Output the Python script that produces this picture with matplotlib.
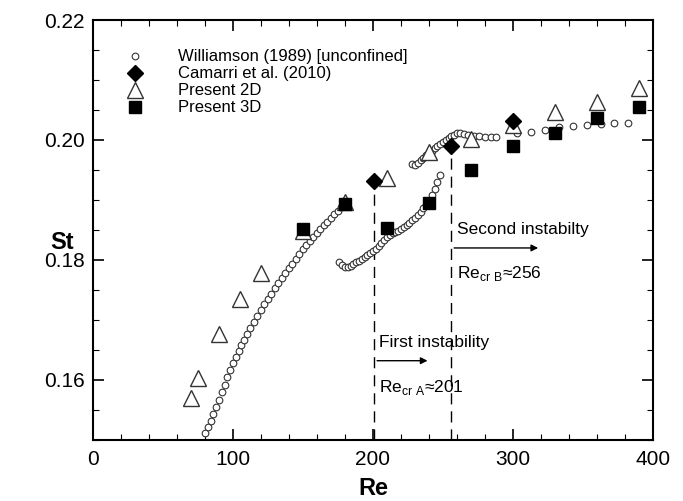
import matplotlib
matplotlib.use('Agg')
import matplotlib.pyplot as plt
from matplotlib.ticker import MultipleLocator

plt.rcParams['font.family'] = ['Liberation Sans', 'DejaVu Sans']
plt.rcParams['mathtext.fontset'] = 'custom'
plt.rcParams['mathtext.rm'] = 'Liberation Sans'

# Williamson (1989) - three branches
will_re_lam = [80, 82, 84, 86, 88, 90, 92, 94, 96, 98, 100, 102, 104, 106, 108, 110,
               112.5, 115, 117.5, 120, 122.5, 125, 127.5, 130, 132.5, 135, 137.5, 140,
               142.5, 145, 147.5, 150, 152.5, 155, 157.5, 160, 162.5, 165, 167.5, 170,
               172.5, 175, 177.5, 180]
will_st_lam = [0.1511, 0.1521, 0.1531, 0.1543, 0.1555, 0.1567, 0.1580, 0.1592, 0.1605, 0.1617,
               0.1628, 0.1638, 0.1648, 0.1658, 0.1667, 0.1676, 0.1686, 0.1696, 0.1706, 0.1716,
               0.1726, 0.1735, 0.1744, 0.1753, 0.1762, 0.1770, 0.1778, 0.1786, 0.1794, 0.1802,
               0.1810, 0.1818, 0.1825, 0.1832, 0.1838, 0.1845, 0.1851, 0.1858, 0.1864, 0.1870,
               0.1876, 0.1882, 0.1888, 0.1893]

will_re_a = [176, 178, 180, 182, 184, 186, 188, 190, 192, 194, 196, 198, 200, 202, 204, 206,
             208, 210, 212, 214, 216, 218, 220, 222, 224, 226, 228, 230, 232, 234, 236, 238,
             240, 242, 244, 246, 248]
will_st_a = [0.1796, 0.1791, 0.1789, 0.1789, 0.1790, 0.1793, 0.1796, 0.1799, 0.1802, 0.1805,
             0.1808, 0.1812, 0.1815, 0.1819, 0.1823, 0.1828, 0.1833, 0.1838, 0.1842, 0.1845,
             0.1847, 0.1849, 0.1852, 0.1855, 0.1858, 0.1862, 0.1866, 0.1870, 0.1875, 0.1880,
             0.1886, 0.1892, 0.1899, 0.1908, 0.1918, 0.1930, 0.1942]

will_re_b = [228, 230, 232, 234, 236, 238, 240, 242, 244, 246, 248, 250, 252, 254, 256, 258,
             260, 262, 265, 268, 272, 276, 280, 284, 288, 303, 313, 323, 333, 343, 353, 363,
             372, 382]
will_st_b = [0.1960, 0.1958, 0.1962, 0.1966, 0.1970, 0.1975, 0.1978, 0.1982, 0.1986, 0.1990,
             0.1993, 0.1997, 0.2000, 0.2003, 0.2006, 0.2009, 0.2011, 0.2012, 0.2010, 0.2008,
             0.2007, 0.2006, 0.2005, 0.2005, 0.2005, 0.2011, 0.2014, 0.2017, 0.2021, 0.2023,
             0.2025, 0.2027, 0.2028, 0.2029]

camarri_re = [201, 256, 300]
camarri_st = [0.1932, 0.1990, 0.2031]

p2d_re = [70, 75, 90, 105, 120, 150, 180, 210, 240, 270, 300, 330, 360, 390]
p2d_st = [0.1570, 0.1604, 0.1676, 0.1735, 0.1779, 0.1849, 0.1897, 0.1936, 0.1980, 0.2001,
          0.2025, 0.2047, 0.2064, 0.2087]

p3d_re = [150, 180, 210, 240, 270, 300, 330, 360, 390]
p3d_st = [0.1851, 0.1894, 0.1853, 0.1895, 0.1950, 0.1990, 0.2011, 0.2036, 0.2055]

re_cr_a = 201
re_cr_b = 256

fig = plt.figure(figsize=(6.83, 5.01), dpi=100)
ax = fig.add_axes([0.136, 0.122, 0.82, 0.838])

will_re = will_re_lam + will_re_a + will_re_b
will_st = will_st_lam + will_st_a + will_st_b
ax.plot(will_re, will_st, 'o', mfc='white', mec='#333333', mew=0.8, ms=4.8,
        label='Williamson (1989) [unconfined]', zorder=3)
ax.plot(camarri_re, camarri_st, 'D', color='black', ms=8.5, label='Camarri et al. (2010)', zorder=5)
ax.plot(p2d_re, p2d_st, '^', mfc='white', mec='#333333', mew=1.0, ms=11, label='Present 2D', zorder=4)
ax.plot(p3d_re, p3d_st, 's', color='black', ms=8.5, label='Present 3D', zorder=6)

# critical Reynolds numbers
ax.plot([re_cr_a, re_cr_a], [0.15, camarri_st[0]], color='black', lw=1, ls=(0, (8, 5)), zorder=2)
ax.plot([re_cr_b, re_cr_b], [0.15, camarri_st[1]], color='black', lw=1, ls=(0, (8, 5)), zorder=2)

ax.annotate('', xy=(241, 0.1632), xytext=(re_cr_a, 0.1632),
            arrowprops=dict(arrowstyle='-|>', color='black', lw=1, mutation_scale=10))
ax.annotate('', xy=(320, 0.1820), xytext=(re_cr_b, 0.1820),
            arrowprops=dict(arrowstyle='-|>', color='black', lw=1, mutation_scale=10))
ax.text(204, 0.1662, 'First instability', fontsize=12.5, va='center')
ax.text(204, 0.1588, r'Re$_{\mathrm{cr\ A}}$≈201', fontsize=12.5, va='center')
ax.text(260, 0.1850, 'Second instabilty', fontsize=12.5, va='center')
ax.text(260, 0.1777, r'Re$_{\mathrm{cr\ B}}$≈256', fontsize=12.5, va='center')

ax.set_xlim(0, 400)
ax.set_ylim(0.15, 0.22)
ax.xaxis.set_major_locator(MultipleLocator(100))
ax.xaxis.set_minor_locator(MultipleLocator(20))
ax.yaxis.set_major_locator(MultipleLocator(0.02))
ax.yaxis.set_minor_locator(MultipleLocator(0.005))
ax.yaxis.set_major_formatter(plt.FormatStrFormatter('%.2f'))
ax.tick_params(which='both', direction='in', top=True, right=True, width=1.2, labelsize=15)
ax.tick_params(which='major', length=8, pad=6)
ax.tick_params(axis='x', which='major', pad=7)
ax.tick_params(which='minor', length=4, width=0.8)
for s in ax.spines.values():
    s.set_linewidth(1.5)

ax.set_xlabel('Re', fontsize=17, fontweight='bold', va='center')
ax.xaxis.set_label_coords(0.5, -0.115)
ax.set_ylabel('St', fontsize=17, fontweight='bold', rotation=0, va='center')
ax.yaxis.set_label_coords(-0.055, 0.47)

ax.legend(loc='upper left', bbox_to_anchor=(0.03, 0.95), frameon=False, fontsize=12,
          handletextpad=1.6, labelspacing=0.12, borderpad=0, handlelength=2)

plt.savefig('out.png', dpi=100)
